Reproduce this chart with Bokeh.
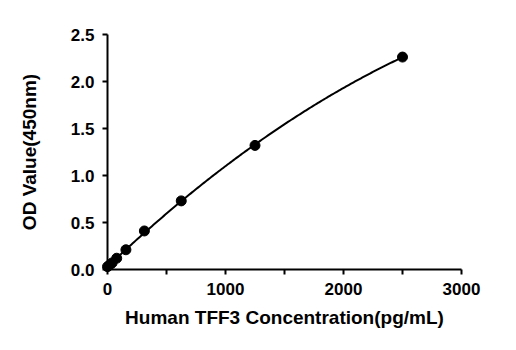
import numpy as np
from bokeh.plotting import figure
from bokeh.models import FixedTicker, Range1d
from bokeh.embed import file_html
from bokeh.resources import INLINE

# Data
conc = [0, 19.5, 39, 78, 156, 312.5, 625, 1250, 2500]
od = [0.03, 0.05, 0.07, 0.12, 0.21, 0.41, 0.73, 1.32, 2.26]
x_ticks = [0, 1000, 2000, 3000]
x_minor = [500, 1500, 2500]
y_ticks = [0.0, 0.5, 1.0, 1.5, 2.0, 2.5]

FONT = "Liberation Sans"

p = figure(width=500, height=334, output_backend="svg", toolbar_location=None,
           x_range=Range1d(0, 3000), y_range=Range1d(0, 2.5),
           min_border_left=107, min_border_right=39, min_border_top=34, min_border_bottom=65)
p.outline_line_color = None
p.grid.visible = False

# fitted curve (quadratic fit through the points)
coef = np.polyfit(conc, od, 2)
xs = np.linspace(0, 2500, 200)
ys = np.polyval(coef, xs)
r1 = p.line(xs, ys, line_color="black", line_width=2)
r2 = p.scatter(conc, od, size=10, fill_color="black", line_color="black")
r1.level = "overlay"
r2.level = "overlay"

for ax in (p.xaxis[0], p.yaxis[0]):
    ax.axis_line_width = 2
    ax.axis_line_color = "black"
    ax.major_tick_line_width = 2
    ax.minor_tick_line_width = 2
    ax.major_tick_out = 5
    ax.major_tick_in = 0
    ax.major_label_text_font = FONT
    ax.major_label_text_font_style = "bold"
    ax.major_label_text_font_size = "17px"
    ax.major_label_text_color = "black"
    ax.axis_label_text_font = FONT
    ax.axis_label_text_font_style = "bold"
    ax.axis_label_text_font_size = "19px"
    ax.axis_label_text_color = "black"

p.xaxis[0].ticker = FixedTicker(ticks=x_ticks, minor_ticks=x_minor)
p.xaxis[0].minor_tick_out = 5
p.xaxis[0].minor_tick_in = 0
p.xaxis[0].major_label_standoff = 8
p.xaxis[0].axis_label = "Human TFF3 Concentration(pg/mL)"
p.xaxis[0].axis_label_standoff = 9

p.yaxis[0].ticker = FixedTicker(ticks=y_ticks, minor_ticks=[])
p.yaxis[0].major_label_overrides = {0.0: "0.0", 0.5: "0.5", 1.0: "1.0", 1.5: "1.5", 2.0: "2.0", 2.5: "2.5"}
p.yaxis[0].major_label_standoff = 8
p.yaxis[0].axis_label = "OD Value(450nm)"
p.yaxis[0].axis_label_standoff = 28

open("out.html", "w").write(file_html(p, INLINE))
